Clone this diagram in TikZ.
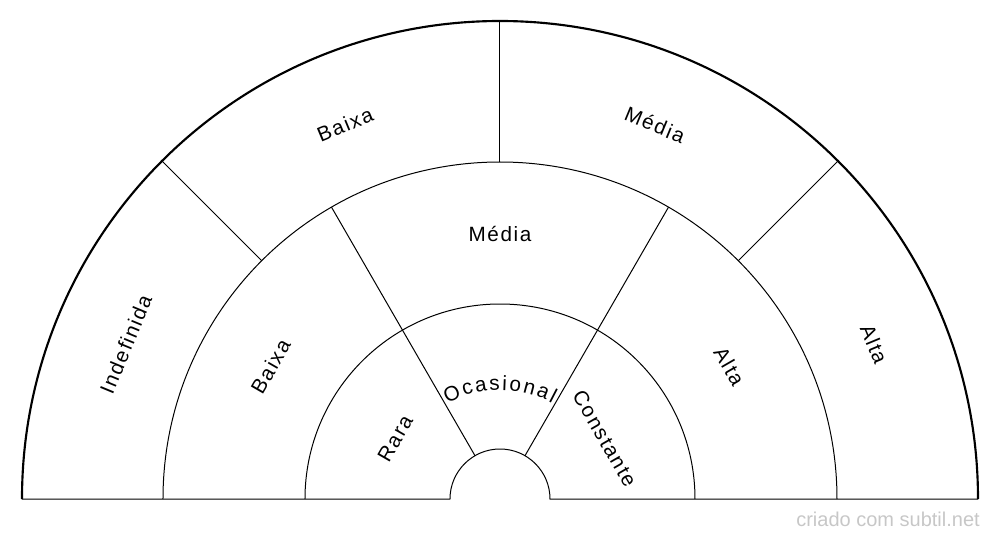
\documentclass[tikz,border=0pt]{standalone}
\usepackage{fontspec}
\setmainfont{Liberation Sans}
\newfontfamily\lblfont[LetterSpace=8]{Liberation Sans}
\newcommand{\lblstyle}{\lblfont\fontsize{15.5}{18}\selectfont}

\begin{document}
\begin{tikzpicture}
	[x=0.75pt,y=0.75pt,
	ring/.style={draw,line width=0.75pt},
	rim/.style={draw,line width=1.6pt},
	lbl/.style={font=\lblstyle,inner sep=0pt},
	letter/.style={font=\fontsize{15.5}{18}\selectfont,inner sep=0pt,anchor=base},
	credit/.style={font=\fontsize{15}{18}\selectfont,text=black!22,inner sep=0pt}]
	\useasboundingbox (-500,-41) rectangle (500,499);
	% rings
	\draw [rim] (180:478) arc [start angle=180, end angle=0, radius=478];
	\draw [ring] (180:337) arc [start angle=180, end angle=0, radius=337];
	\draw [ring] (180:195) arc [start angle=180, end angle=0, radius=195];
	\draw [ring] (-478,0) -- (-50,0) arc [start angle=180, end angle=0, radius=50] -- (478,0);
	% dividers
	\draw [ring] (120:50) -- (120:337);
	\draw [ring] (60:50) -- (60:337);
	\draw [ring] (135:337) -- (135:478);
	\draw [ring] (90:337) -- (90:478);
	\draw [ring] (45:337) -- (45:478);
	% outer labels
	\node [lbl, rotate=67.5] (indefinida) at (157.5:405) {Indefinida};
	\node [lbl, rotate=22.5] (baixa3) at (112.5:405) {Baixa};
	\node [lbl, rotate=-22.5] (media3) at (67.5:405) {Média};
	\node [lbl, rotate=-67.5] (alta3) at (22.5:405) {Alta};
	% middle labels
	\node [lbl, rotate=60] (baixa2) at (150:265) {Baixa};
	\node [lbl] (media2) at (90:265) {Média};
	\node [lbl, rotate=-60] (alta2) at (30:265) {Alta};
	% inner labels
	\node [lbl, rotate=60] (rara) at (150:121) {Rara};
	\node [lbl, rotate=-60] (constante) at (30:121) {Constante};
	% Ocasional, letter by letter on the arc
	\foreach \ang/\ch [count=\i] in {114.5/O, 106.5/c, 99.6/a, 92.8/s, 87.7/i,
		82.3/o, 75.2/n, 68.0/a, 62.6/l}
		\node [letter, rotate=\ang-90] (ocasional\i) at (\ang:109) {\ch};
	\node [credit, anchor=base east] (credit) at (480,-27) {criado com subtil.net};
\end{tikzpicture}
\end{document}
